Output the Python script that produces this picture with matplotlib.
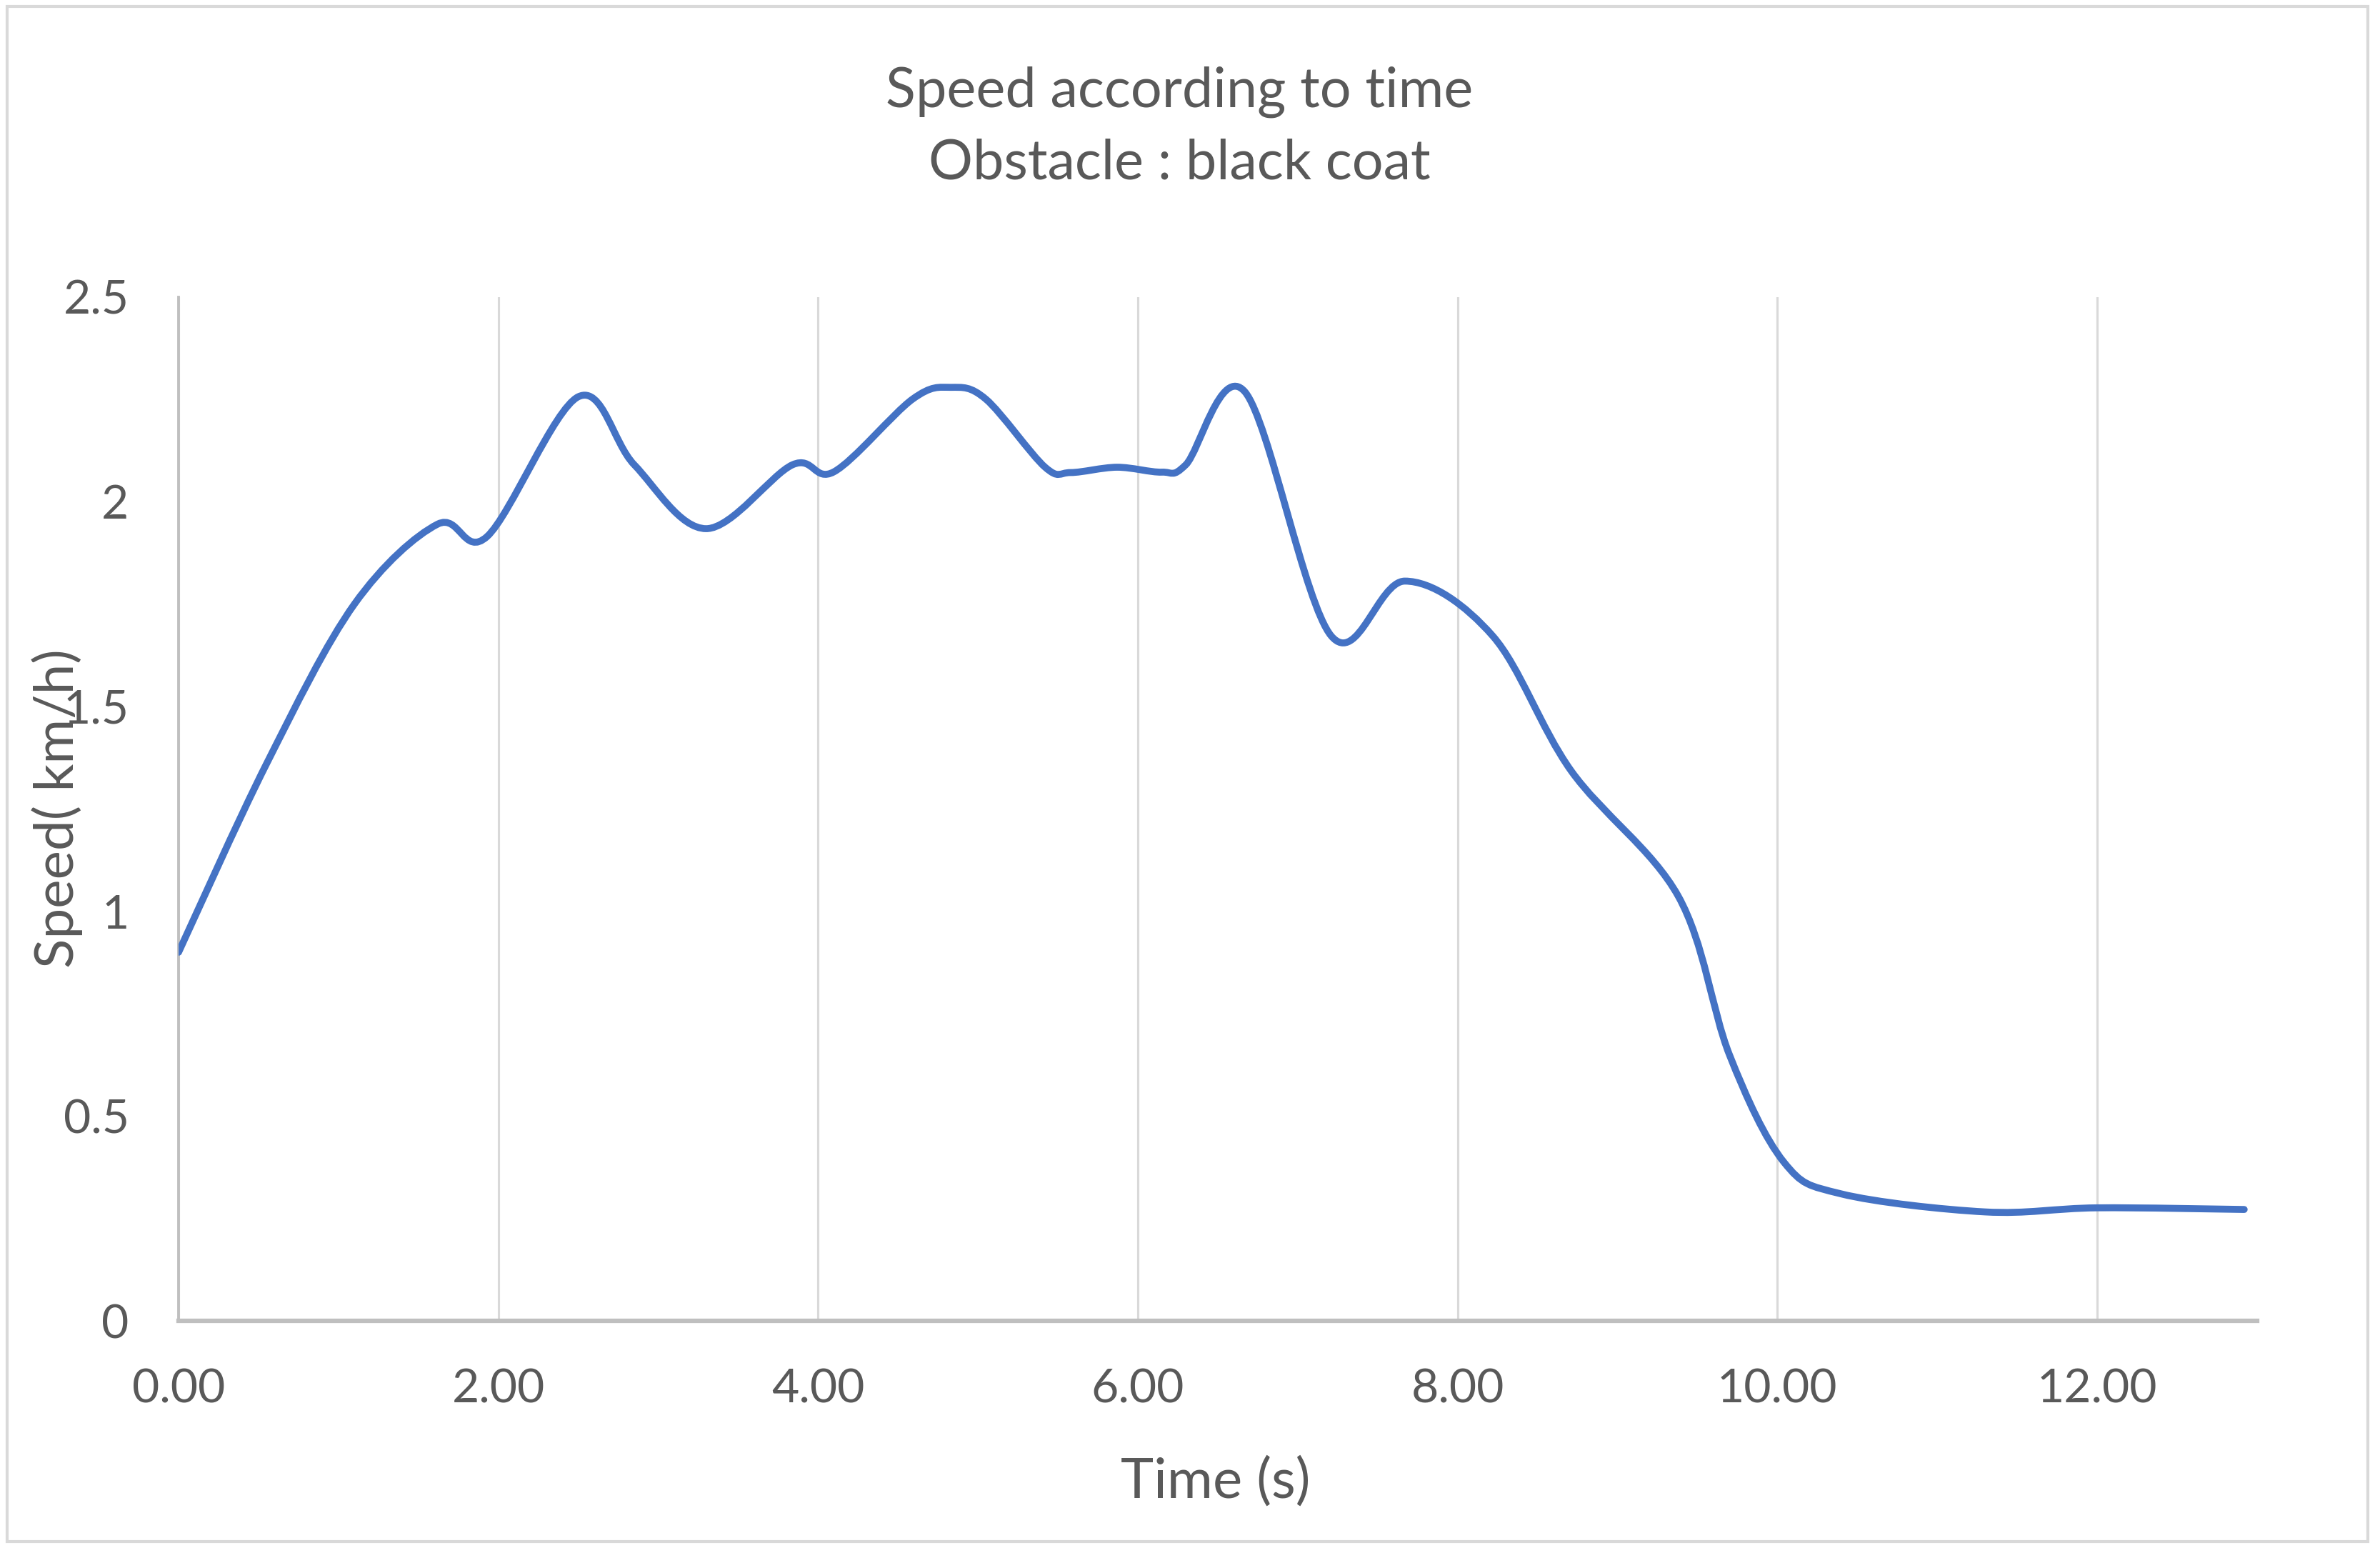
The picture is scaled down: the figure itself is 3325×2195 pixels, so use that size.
import matplotlib
matplotlib.use('Agg')
from matplotlib import pyplot as plt
from matplotlib.path import Path
from matplotlib.patches import PathPatch, Rectangle

# values
time_s = [0.00, 0.55, 1.10, 1.62, 1.93, 2.50, 2.85, 3.30, 3.84, 4.10,
          4.59, 4.83, 5.05, 5.42, 5.58, 5.87, 6.15, 6.30, 6.67, 7.21, 7.67,
          8.22, 8.71, 9.38, 9.70, 10.04, 10.40, 11.30, 12.00, 12.92]
speed = [0.90, 1.36, 1.75, 1.945, 1.915, 2.256, 2.09, 1.934, 2.09, 2.073,
         2.25, 2.279, 2.25, 2.084, 2.071, 2.084, 2.072, 2.09, 2.268, 1.672,
         1.806, 1.672, 1.343, 1.037, 0.65, 0.388, 0.31, 0.266, 0.276, 0.272]

x_ticks = [0, 2, 4, 6, 8, 10, 12]
y_ticks = [0, 0.5, 1, 1.5, 2, 2.5]
y_tick_labels = ['0', '0.5', '1', '1.5', '2', '2.5']

title = 'Speed according to time\nObstacle : black coat'
x_label = 'Time (s)'
y_label = 'Speed( km/h)'

TEXT = '#595959'
LINE = '#4472C4'
plt.rcParams['font.family'] = ['Lato', 'DejaVu Sans']


def smooth_path(x, y):
    # excel-like smoothed line: cubic bezier with catmull-rom style handles
    verts = [(x[0], y[0])]
    codes = [Path.MOVETO]
    n = len(x)
    for i in range(n - 1):
        a = i - 1 if i > 0 else i
        b = i + 2 if i + 2 < n else i + 1
        c1 = (x[i] + (x[i + 1] - x[a]) / 6, y[i] + (y[i + 1] - y[a]) / 6)
        c2 = (x[i + 1] - (x[b] - x[i]) / 6, y[i + 1] - (y[b] - y[i]) / 6)
        verts += [c1, c2, (x[i + 1], y[i + 1])]
        codes += [Path.CURVE4] * 3
    return Path(verts, codes)


fig = plt.figure(figsize=(13.3, 8.78), dpi=250)
fig.patches.append(Rectangle((0.003, 0.017), 0.994, 0.979, transform=fig.transFigure,
                             fill=False, edgecolor='#d9d9d9', lw=1.2))

ax = fig.add_axes([0.0752, 0.1576, 0.8751, 0.6531])
ax.add_patch(PathPatch(smooth_path(time_s, speed), fill=False, edgecolor=LINE,
                       lw=2.8, capstyle='round', joinstyle='round', zorder=3))

ax.set_xlim(0, 13)
ax.set_ylim(0, 2.5)
ax.set_xticks(x_ticks)
ax.set_xticklabels([f'{t:.2f}' for t in x_ticks])
ax.set_yticks(y_ticks)
ax.set_yticklabels(y_tick_labels)
ax.grid(axis='x', color='#d9d9d9', lw=0.9)
ax.set_axisbelow(True)

for side in ['top', 'right']:
    ax.spines[side].set_visible(False)
ax.spines['left'].set_color('#bfbfbf')
ax.spines['left'].set_linewidth(1.1)
ax.spines['bottom'].set_color('#bfbfbf')
ax.spines['bottom'].set_linewidth(1.8)

ax.tick_params(length=0, labelsize=19, labelcolor=TEXT)
ax.tick_params(axis='x', pad=19)
ax.tick_params(axis='y', pad=20)

fig.text(0.4965, 0.9186, title, ha='center', va='center', fontsize=22.3,
         color=TEXT, linespacing=1.5)
fig.text(0.5117, 0.055, x_label, ha='center', va='center', fontsize=22.5, color=TEXT)
fig.text(0.0242, 0.4843, y_label, ha='center', va='center', rotation=90,
         fontsize=22, color=TEXT)

fig.savefig('out.png', dpi=250)
